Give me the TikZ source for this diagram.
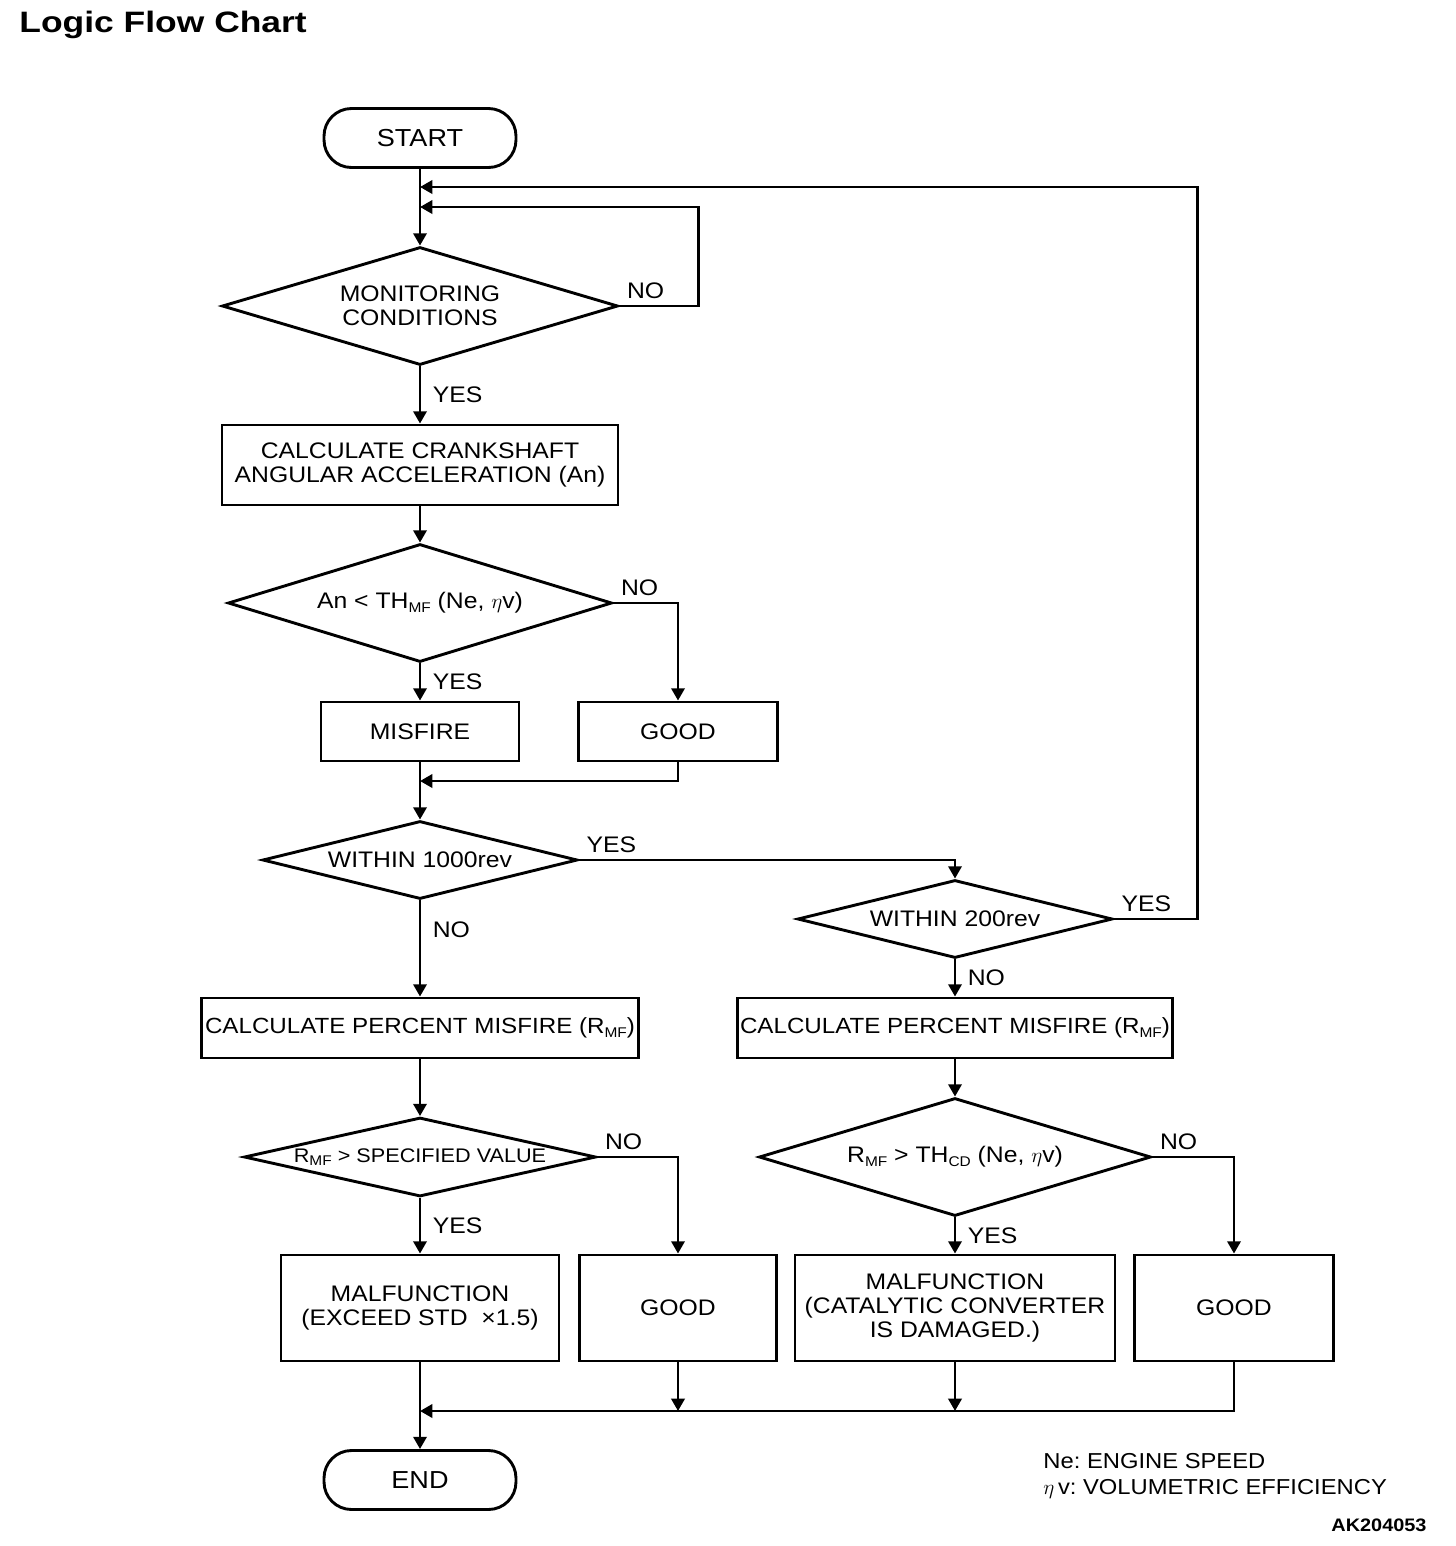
\documentclass[tikz,border=0pt]{standalone}
\usepackage{fontspec}
\setmainfont{Liberation Sans}[FakeStretch=1.1]
\newfontfamily\titlefont{Liberation Sans Bold}[FakeStretch=1.2]
\usetikzlibrary{shapes.geometric}
\usetikzlibrary{arrows.meta}
\tikzstyle{term} = [rectangle,rounded corners=0.55cm,draw=black,minimum width=3.84cm,minimum height=1.18cm,font=\fontsize{14}{14}\selectfont]
\tikzstyle{block} = [rectangle,draw=black,align=center,inner sep=1pt]
\tikzstyle{decision} = [diamond,draw=black,align=center,inner sep=0pt]
\tikzstyle{lbl} = [inner sep=3.5pt]
\tikzset{>={Triangle[length=7pt,width=7.5pt]}}
\newcommand{\lowidx}[1]{\raisebox{-0.3ex}{\fontsize{8}{8}\selectfont #1}}
\frenchspacing

\begin{document}
\begin{tikzpicture}[x=0.02cm,y=-0.02cm,line width=1.65pt,font=\fontsize{12.8}{13.9}\selectfont]
  \useasboundingbox (0,0) rectangle (1456,1546);

  \node [anchor=west,inner sep=0pt,font=\fontsize{16.8}{18}\titlefont] (t0) at (18,25) {Logic Flow Chart};

  \node [term] (s0) at (420,138) {START};
  \node [decision,aspect=3.36,minimum width=7.92cm,minimum height=2.36cm] (d1) at (420,306) {MONITORING\\CONDITIONS};
  \node [block,minimum width=7.92cm,minimum height=1.6cm] (b1) at (420,465) {CALCULATE CRANKSHAFT\\ANGULAR ACCELERATION (An)};
  \node [decision,aspect=3.25,minimum width=7.68cm,minimum height=2.36cm] (d2) at (420,603) {An < TH\lowidx{MF} (Ne, $\eta$v)};
  \node [block,minimum width=3.96cm,minimum height=1.18cm] (b2) at (420,731.5) {MISFIRE};
  \node [block,minimum width=3.98cm,minimum height=1.18cm] (b3) at (678,731.5) {GOOD};

  \coordinate (j1) at (420,187);
  \coordinate (j2) at (420,207);
  \coordinate (j3) at (420,781);
  \coordinate (j4) at (420,1411);

  \draw [->] (s0) -- (d1);
  \draw [->] (d1.east) -- ++(79,0) node [lbl,pos=0,above right] {NO} |- (j2);
  \draw [->] (d1) -- (b1) node [lbl,midway,right=3pt] {YES};
  \draw [->] (b1) -- (d2);
  \draw [->] (d2) -- (b2) node [lbl,midway,right=3pt] {YES};
  \draw [->] (d2.east) -| (b3.north) node [lbl,pos=0,above right] {NO};
  \draw [->] (b3.south) |- (j3);

  \node [decision,aspect=4.04,minimum width=6.3cm,minimum height=1.56cm] (d3) at (420,860) {WITHIN 1000rev};
  \node [decision,aspect=4.04,minimum width=6.3cm,minimum height=1.56cm] (d4) at (955,919) {WITHIN 200rev};
  \draw [->] (b2) -- (d3);
  \draw [->] (d3.east) -| (d4.north) node [lbl,pos=0,above right] {YES};
  \draw [->] (d4.east) -- ++(84,0) node [lbl,pos=0,above right] {YES} |- (j1);

  \node [block,minimum width=8.74cm,minimum height=1.2cm,font=\fontsize{12.5}{13.9}\selectfont] (b4) at (420,1028) {CALCULATE PERCENT MISFIRE (R\lowidx{MF})};
  \node [block,minimum width=8.7cm,minimum height=1.2cm,font=\fontsize{12.5}{13.9}\selectfont] (b5) at (955,1028) {CALCULATE PERCENT MISFIRE (R\lowidx{MF})};
  \draw [->] (d3) -- (b4) node [lbl,pos=0.3,right=3pt] {NO};
  \draw [->] (d4) -- (b5) node [lbl,midway,right=3pt] {NO};

  \node [decision,aspect=4.46,minimum width=7.04cm,minimum height=1.58cm,font=\fontsize{11.2}{12}\selectfont] (d5) at (420,1157) {R\lowidx{MF} > SPECIFIED VALUE};
  \node [decision,aspect=3.32,minimum width=7.84cm,minimum height=2.36cm] (d6) at (955,1157) {R\lowidx{MF} > TH\lowidx{CD} (Ne, $\eta$v)};
  \draw [->] (b4) -- (d5);
  \draw [->] (b5) -- (d6);

  \node [block,minimum width=5.56cm,minimum height=2.12cm] (b6) at (420,1308) {MALFUNCTION\\(EXCEED STD\ \ ×1.5)};
  \node [block,minimum width=3.94cm,minimum height=2.12cm] (b7) at (678,1308) {GOOD};
  \node [block,minimum width=6.4cm,minimum height=2.12cm] (b8) at (955,1308) {MALFUNCTION\\(CATALYTIC CONVERTER\\IS DAMAGED.)};
  \node [block,minimum width=3.98cm,minimum height=2.12cm] (b9) at (1234,1308) {GOOD};
  \draw [->] (d5) -- (b6) node [lbl,midway,right=3pt] {YES};
  \draw [->] (d5.east) -| (b7.north) node [lbl,pos=0,above right] {NO};
  \draw [->] (d6) -- (b8) node [lbl,midway,right=3pt] {YES};
  \draw [->] (d6.east) -| (b9.north) node [lbl,pos=0,above right] {NO};

  \node [term] (e0) at (420,1480) {END};
  \draw [->] (b9.south) |- (j4);
  \draw [->] (b7) -- (b7 |- j4);
  \draw [->] (b8) -- (b8 |- j4);
  \draw [->] (b6) -- (e0);

  \node [anchor=west,align=left,inner sep=0pt,font=\fontsize{12.3}{14.5}\selectfont] (k1) at (1042,1476) {Ne: ENGINE SPEED\\$\eta$\,v: VOLUMETRIC EFFICIENCY};
  \node [anchor=east,inner sep=0pt,font=\fontsize{10.3}{12}\selectfont\bfseries] (k2) at (1428,1525) {AK204053};
\end{tikzpicture}
\end{document}
